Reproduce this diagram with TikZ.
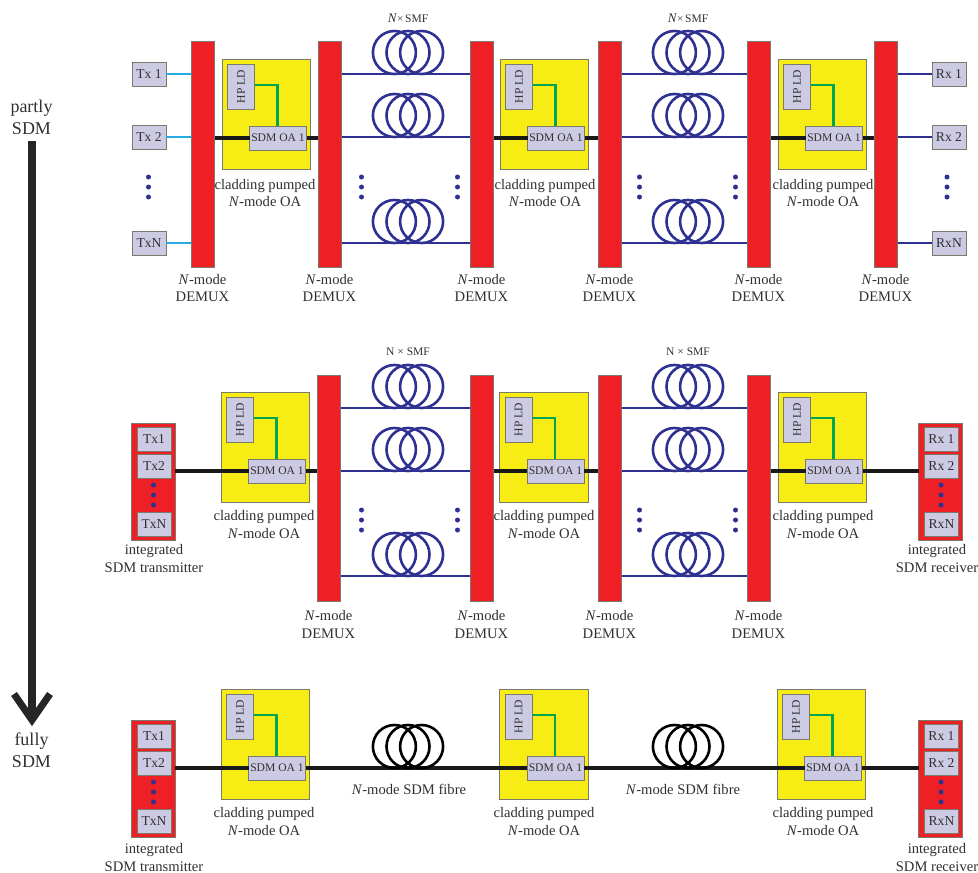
\documentclass[tikz,border=0pt]{standalone}
\usepackage{fontspec}
\usepackage{graphicx}
\setmainfont{Liberation Serif}
\definecolor{cred}{HTML}{EE2025}
\definecolor{cyel}{HTML}{F7EC13}
\definecolor{clil}{HTML}{CDCBE4}
\definecolor{cnavy}{HTML}{2E3192}
\definecolor{ccyan}{HTML}{27AAE1}
\definecolor{cgreen}{HTML}{00A651}
\definecolor{cedge}{HTML}{7A7A6C}
\definecolor{ctext}{HTML}{303030}
\tikzset{
  blockbox/.style={draw=cedge,line width=1pt,inner sep=0pt,outer sep=0pt,text=ctext},
  lilbox/.style={blockbox,fill=clil,font=\fontsize{13.6}{16}\selectfont},
  oabox/.style={lilbox,font=\fontsize{11.6}{14}\selectfont},
  redbox/.style={blockbox,fill=cred},
  yelbox/.style={blockbox,fill=cyel},
  lab/.style={inner sep=0pt,text=ctext,align=center,font=\fontsize{14.6}{17.5}\selectfont},
  biglab/.style={inner sep=0pt,text=ctext,align=center,font=\fontsize{18}{22}\selectfont},
  smflab/.style={inner sep=0pt,text=ctext,font=\fontsize{11.5}{13}\selectfont},
  blackline/.style={line width=3.8pt,draw=black!90},
  navyline/.style={line width=2.4pt,draw=cnavy},
  cyanline/.style={line width=2.4pt,draw=ccyan},
  greenline/.style={line width=2.6pt,draw=cgreen},
  dot/.style={circle,fill=cnavy,inner sep=0pt,minimum size=5pt},
}
% name, x0, y0, x1, y1, style, text
\newcommand{\bx}[7]{\node[#6,minimum width={((#4)-(#2))*1pt},minimum height={((#5)-(#3))*1pt}] (#1) at ({((#2)+(#4))/2},{((#3)+(#5))/2}) {#7};}
% coil: centre x, bottom y, colour
\newcommand{\coil}[3]{\foreach \dx in {-13.6,0,13.6}{\draw[#3,line width=2.6pt] ({#1+\dx},{#2-21.5}) circle[radius=21.5pt];}}
% vertical dots
\newcommand{\vdotsat}[3]{\node[dot] (#1a) at ({#2},{#3}) {};\node[dot] (#1b) at ({#2},{#3+10}) {};\node[dot] (#1c) at ({#2},{#3+20}) {};}
% amplifier: name, left x, top y
\newcommand{\oa}[3]{%
  \bx{#1}{#2}{#3}{#2+88.5}{#3+110}{yelbox}{}
  \bx{#1hp}{#2+5.5}{#3+5}{#2+32.5}{#3+50}{oabox}{\rotatebox{90}{HP LD}}
  \bx{#1sd}{#2+27.5}{#3+67}{#2+84.5}{#3+91}{oabox}{SDM OA 1}
  \coordinate (#1g) at ({#2+55.5},{#3+26});
  \draw[greenline] (#1hp.east |- #1g) -- (#1g) -- (#1g |- #1sd.north);
}
\newcommand{\oalab}[2]{\node[lab] at (#1,#2) {cladding pumped\\\textit{N}-mode OA};}
\newcommand{\dmx}[4]{%
  \bx{#1}{#2}{#3}{#2+23}{#3+226}{redbox}{}
  \node[lab] at ({#2+11.5},{#4}) {\textit{N}-mode\\DEMUX};
}
% integrated unit: prefix, x0, top y, labels
\newcommand{\unit}[6]{%
  \bx{#1}{#2}{#3}{#2+44}{#3+117}{redbox}{}
  \bx{#1a}{#2+6}{#3+4}{#2+40}{#3+28}{lilbox}{#4}
  \bx{#1b}{#2+6}{#3+31}{#2+40}{#3+55}{lilbox}{#5}
  \bx{#1c}{#2+6}{#3+89}{#2+40}{#3+113}{lilbox}{#6}
  \vdotsat{#1d}{#2+22.5}{#3+62}
}
\begin{document}
\begin{tikzpicture}[x=1pt,y=-1pt]
\useasboundingbox (0,0) rectangle (978,873);
% progress arrow
\node[biglab] (partly) at (31.5,117) {partly\\SDM};
\node[biglab] (fully) at (31.5,750) {fully\\SDM};
\draw[line width=8pt,draw=ctext!80!black] (32,141) -- (32,720);
\draw[line width=7pt,draw=ctext!80!black,line cap=butt,miter limit=10] (14,694) -- (32,720) -- (50,694);

% ===== row 1 =====
\bx{tA}{132}{62}{166}{86}{lilbox}{Tx 1}
\bx{tB}{132}{125}{166}{149}{lilbox}{Tx 2}
\bx{tN}{132}{231}{166}{255}{lilbox}{TxN}
\vdotsat{tdots}{148.5}{177}
\draw[cyanline] (tA.east) -- (tA.east -| 191,0);
\draw[cyanline] (tB.east) -- (tB.east -| 191,0);
\draw[cyanline] (tN.east) -- (tN.east -| 191,0);
\oa{oa}{222}{59}
\oa{ob}{500}{59}
\oa{oc}{778}{59}
\bx{rA}{932}{62}{966}{86}{lilbox}{Rx 1}
\bx{rB}{932}{125}{966}{149}{lilbox}{Rx 2}
\bx{rN}{932}{231}{966}{255}{lilbox}{RxN}
\vdotsat{rdots}{947}{177}
\draw[navyline] (rA.west -| 897,0) -- (rA.west);
\draw[navyline] (rB.west -| 897,0) -- (rB.west);
\draw[navyline] (rN.west -| 897,0) -- (rN.west);
\draw[blackline] (oasd.west -| 214,0) -- (oasd.west);
\draw[blackline] (oasd.east) -- (oasd.east -| 318,0);
\draw[blackline] (obsd.west -| 493,0) -- (obsd.west);
\draw[blackline] (obsd.east) -- (obsd.east -| 598,0);
\draw[blackline] (ocsd.west -| 770,0) -- (ocsd.west);
\draw[blackline] (ocsd.east) -- (ocsd.east -| 874,0);
\foreach \y in {74,137,243}{
  \draw[navyline] (341,\y) -- (470,\y);
  \draw[navyline] (621,\y) -- (747,\y);
  \coil{408}{\y}{cnavy}
  \coil{688}{\y}{cnavy}
}
\dmx{da}{191}{41}{288}
\dmx{db}{318}{41}{288}
\dmx{dc}{470}{41}{288}
\dmx{dd}{598}{41}{288}
\dmx{de}{747}{41}{288}
\dmx{df}{874}{41}{288}
\vdotsat{ma}{361.5}{177}
\vdotsat{mb}{457.5}{177}
\vdotsat{mc}{639.5}{177}
\vdotsat{md}{735.5}{177}
\node[smflab] at (408,18) {\textit{\fontsize{13}{13}\selectfont N}{\fontsize{11}{13}\selectfont ×}\,SMF};
\node[smflab] at (688,18) {\textit{\fontsize{13}{13}\selectfont N}{\fontsize{11}{13}\selectfont ×}\,SMF};
\oalab{265}{193}
\oalab{545}{193}
\oalab{823}{193}

% ===== row 2 =====
\unit{ua}{131}{423}{Tx1}{Tx2}{TxN}
\unit{ub}{918.5}{423}{Rx 1}{Rx 2}{RxN}
\oa{pa}{221}{392}
\oa{pb}{499.5}{392}
\oa{pc}{778}{392}
\draw[blackline] (ua.east |- pasd.west) -- (pasd.west);
\draw[blackline] (pasd.east) -- (pasd.east -| 317,0);
\draw[blackline] (pbsd.west -| 493,0) -- (pbsd.west);
\draw[blackline] (pbsd.east) -- (pbsd.east -| 598,0);
\draw[blackline] (pcsd.west -| 770,0) -- (pcsd.west);
\draw[blackline] (pcsd.east) -- (ub.west |- pcsd.east);
\foreach \y in {408,471,576}{
  \draw[navyline] (340,\y) -- (470,\y);
  \draw[navyline] (621,\y) -- (747,\y);
  \coil{408}{\y}{cnavy}
  \coil{688}{\y}{cnavy}
}
\dmx{ea}{317}{375}{624.5}
\dmx{eb}{470}{375}{624.5}
\dmx{ec}{598}{375}{624.5}
\dmx{ed}{747}{375}{624.5}
\vdotsat{na}{361.5}{510}
\vdotsat{nb}{457.5}{510}
\vdotsat{nc}{639.5}{510}
\vdotsat{nd}{735.5}{510}
\node[smflab] at (408,352) {N × SMF};
\node[smflab] at (688,352) {N × SMF};
\oalab{264}{524.5}
\oalab{544}{524.5}
\oalab{823}{524.5}
\node[lab] at (154,558.5) {integrated\\SDM transmitter};
\node[lab] at (937,558.5) {integrated\\SDM receiver};

% ===== row 3 =====
\unit{va}{131}{720}{Tx1}{Tx2}{TxN}
\unit{vb}{918.5}{720}{Rx 1}{Rx 2}{RxN}
\oa{qa}{221}{689}
\oa{qb}{499.5}{689}
\oa{qc}{777}{689}
\draw[blackline] (va.east |- qasd.west) -- (qasd.west);
\draw[blackline] (qasd.east) -- (qbsd.west);
\draw[blackline] (qbsd.east) -- (qcsd.west);
\draw[blackline] (qcsd.east) -- (vb.west |- qcsd.east);
\coil{408}{768}{black}
\coil{688}{768}{black}
\node[lab] at (409,789) {\textit{N}-mode SDM fibre};
\node[lab] at (683,789) {\textit{N}-mode SDM fibre};
\oalab{264}{821.5}
\oalab{544}{821.5}
\oalab{823}{821.5}
\node[lab] at (154,857.5) {integrated\\SDM transmitter};
\node[lab] at (937,857.5) {integrated\\SDM receiver};
\end{tikzpicture}
\end{document}
